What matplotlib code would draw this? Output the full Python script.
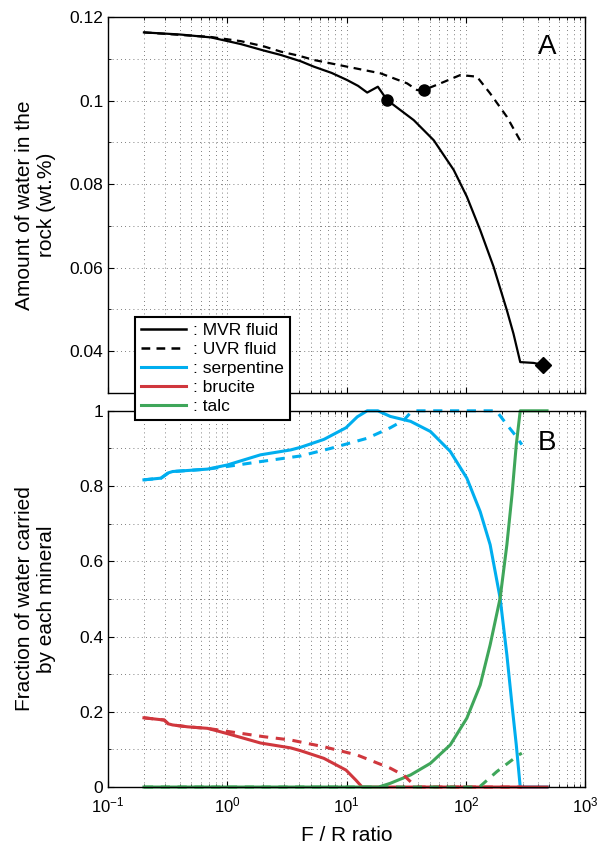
import numpy as np
import matplotlib
matplotlib.use('Agg')
import matplotlib.pyplot as plt
from matplotlib.lines import Line2D
from matplotlib.ticker import MultipleLocator, LogLocator, NullFormatter

plt.rcParams['font.family'] = ['Liberation Sans', 'DejaVu Sans']
plt.rcParams['mathtext.default'] = 'regular'

# panel A: water in the rock (wt.%)
mvr_x = [0.2, 0.4, 0.73, 1.3, 2.0, 2.81, 4.12, 5.32, 7.5, 10.1, 12.5, 14.9, 18.3, 21.9,
         36.6, 53.8, 79.1, 102, 132, 171, 221, 251, 286, 370, 448]
mvr_y = [0.1163, 0.1158, 0.1151, 0.1135, 0.1120, 0.1109, 0.1094, 0.1081, 0.1066, 0.1049,
         0.1035, 0.1019, 0.1033, 0.1001, 0.0953, 0.0905, 0.0834, 0.0770, 0.0690, 0.0602,
         0.0498, 0.0442, 0.0374, 0.0372, 0.0367]
uvr_x = [0.2, 0.73, 1.3, 2.0, 2.81, 4.0, 5.32, 10.1, 19.3, 32.2, 39, 44.4, 61.2, 90, 124,
         160, 221, 295]
uvr_y = [0.1163, 0.1152, 0.1142, 0.1130, 0.1117, 0.1107, 0.1097, 0.1081, 0.1065, 0.1041,
         0.1025, 0.1025, 0.1041, 0.1061, 0.1057, 0.1017, 0.0961, 0.0897]
mvr_dot = (21.9, 0.1001)
uvr_dot = (44.4, 0.1025)
mvr_end = (448, 0.0367)

# panel B: fraction of water carried by each mineral, MVR fluid
serp_x = [0.2, 0.278, 0.32, 0.348, 0.5, 0.682, 1.0, 1.9, 3.4, 4.12, 6.46, 9.9, 12.3, 14.9,
          18.3, 23.3, 34.4, 50.5, 74.1, 102, 132, 160, 194, 221, 244, 265, 286, 480]
serp_y = [0.8165, 0.821, 0.835, 0.8386, 0.842, 0.845, 0.856, 0.883, 0.896, 0.903, 0.924,
          0.955, 0.984, 1.0, 1.0, 0.985, 0.972, 0.945, 0.892, 0.821, 0.732, 0.644, 0.502,
          0.351, 0.218, 0.112, 0.0, 0.0]
bruc_x = [0.2, 0.296, 0.32, 0.348, 0.465, 0.682, 1.0, 1.9, 3.4, 4.12, 6.46, 9.9, 12.0,
          13.5, 480]
bruc_y = [0.184, 0.178, 0.168, 0.165, 0.160, 0.156, 0.142, 0.117, 0.104, 0.0966, 0.0762,
          0.045, 0.018, 0.0, 0.0]
talc_x = [0.2, 18.6, 23.3, 34.4, 50.5, 74.1, 102, 132, 160, 194, 221, 244, 265, 286, 480]
talc_y = [0.0, 0.0, 0.01, 0.032, 0.063, 0.112, 0.183, 0.271, 0.378, 0.502, 0.644, 0.777,
          0.91, 1.0, 1.0]

# panel B, UVR fluid
serp_u_x = [0.2, 0.278, 0.32, 0.348, 0.5, 0.682, 1.0, 2.0, 4.12, 7.35, 14.9, 23.3, 30.2,
            34.4, 38, 180, 207, 221, 260, 295]
serp_u_y = [0.8165, 0.821, 0.835, 0.8386, 0.842, 0.845, 0.852, 0.866, 0.88, 0.9, 0.927,
            0.955, 0.975, 0.995, 1.0, 1.0, 0.975, 0.963, 0.935, 0.91]
bruc_u_x = [0.2, 0.296, 0.32, 0.348, 0.465, 0.682, 1.0, 2.0, 3.4, 6.46, 12.3, 23.3, 30.2,
            35, 39, 295]
bruc_u_y = [0.184, 0.178, 0.168, 0.165, 0.160, 0.156, 0.148, 0.134, 0.125, 0.107, 0.085,
            0.05, 0.031, 0.012, 0.0, 0.0]
talc_u_x = [0.2, 130, 182, 277, 295]
talc_u_y = [0.0, 0.0, 0.041, 0.085, 0.09]

c_serp = '#00AEEF'
c_bruc = '#D0373D'
c_talc = '#3FA65A'

fig = plt.figure(figsize=(5.97, 8.47), dpi=100)
axA = fig.add_axes([0.181, 0.536, 0.799, 0.444])
axB = fig.add_axes([0.181, 0.0708, 0.799, 0.4442])


def style(ax):
    ax.set_xscale('log')
    ax.set_xlim(0.1, 1000)
    ax.xaxis.set_major_locator(LogLocator(base=10, numticks=10))
    ax.xaxis.set_minor_locator(LogLocator(base=10, subs=np.arange(2, 10), numticks=10))
    ax.xaxis.set_minor_formatter(NullFormatter())
    ax.grid(True, which='both', linestyle=(0, (1, 4)), color='#555555', linewidth=0.6)
    ax.tick_params(which='both', direction='in', top=True, right=True, labelsize=12.5)
    ax.tick_params(axis='x', labelsize=12)
    ax.tick_params(which='major', length=4)
    ax.tick_params(which='minor', length=2)
    ax.tick_params(axis='x', pad=6)
    for s in ax.spines.values():
        s.set_linewidth(1.0)


style(axA)
axA.plot(mvr_x, mvr_y, color='k', lw=1.6)
axA.plot(uvr_x, uvr_y, color='k', lw=1.6, ls=(0, (3.5, 2.5)))
axA.plot(*mvr_dot, 'o', color='k', ms=8)
axA.plot(*uvr_dot, 'o', color='k', ms=8)
axA.plot(*mvr_end, 'D', color='k', ms=8)
axA.set_ylim(0.03, 0.12)
axA.yaxis.set_minor_locator(MultipleLocator(0.01))
axA.set_yticks([0.04, 0.06, 0.08, 0.1, 0.12])
axA.set_yticklabels(['0.04', '0.06', '0.08', '0.1', '0.12'])
axA.set_xticklabels([])
axA.set_ylabel('Amount of water in the\nrock (wt.%)', fontsize=15)
axA.text(0.92, 0.92, 'A', transform=axA.transAxes, fontsize=20, ha='center', va='center')

style(axB)
lw_c = 2.2
for xs, ys, col in [(serp_x, serp_y, c_serp), (bruc_x, bruc_y, c_bruc),
                    (talc_x, talc_y, c_talc)]:
    axB.plot(xs, ys, color=col, lw=lw_c, clip_on=False)
dash = (0, (3, 2.5))
for xs, ys, col in [(serp_u_x, serp_u_y, c_serp), (bruc_u_x, bruc_u_y, c_bruc),
                    (talc_u_x, talc_u_y, c_talc)]:
    axB.plot(xs, ys, color=col, lw=lw_c, ls=dash, clip_on=False)
axB.set_ylim(0, 1)
axB.yaxis.set_minor_locator(MultipleLocator(0.1))
axB.set_yticks([0, 0.2, 0.4, 0.6, 0.8, 1])
axB.set_yticklabels(['0', '0.2', '0.4', '0.6', '0.8', '1'])
axB.set_xlabel('F / R ratio', fontsize=15, labelpad=8)
axB.set_ylabel('Fraction of water carried\nby each mineral', fontsize=15)
axB.text(0.92, 0.915, 'B', transform=axB.transAxes, fontsize=20, ha='center', va='center')
for c in [axA, axB]:
    c.yaxis.set_label_coords(-0.11, 0.5)

handles = [Line2D([], [], color='k', lw=1.8),
           Line2D([], [], color='k', lw=1.8, ls=(0, (3.5, 2.5))),
           Line2D([], [], color=c_serp, lw=lw_c),
           Line2D([], [], color=c_bruc, lw=lw_c),
           Line2D([], [], color=c_talc, lw=lw_c)]
labels = [': MVR fluid', ': UVR fluid', ': serpentine', ': brucite', ': talc']
leg = fig.legend(handles, labels, loc='upper left', bbox_to_anchor=(0.226, 0.626),
                 fontsize=12.5, fancybox=False, framealpha=1, edgecolor='k',
                 handlelength=2.6, handletextpad=0.4, labelspacing=0.22,
                 borderpad=0.35, borderaxespad=0)
leg.get_frame().set_linewidth(1.5)

fig.savefig('out.png', dpi=100)
